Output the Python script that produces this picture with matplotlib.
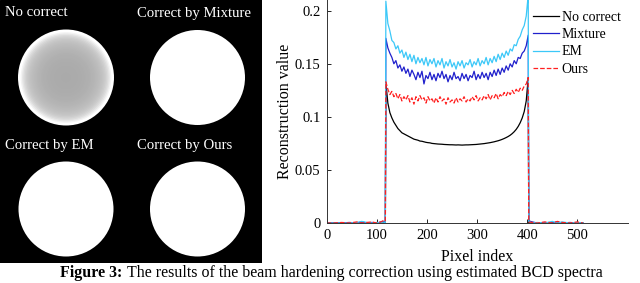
import numpy as np
import matplotlib
matplotlib.use('Agg')
import matplotlib.pyplot as plt
from matplotlib.patches import Circle, Rectangle

plt.rcParams['font.family'] = ['Liberation Serif', 'DejaVu Serif']

# Profile through the reconstructed disc (pixel index vs value)
px_in = list(range(118, 403, 4))
out_l_x = [0, 15, 30, 45, 60, 70, 80, 90, 100, 108, 112, 117]
out_r_x = [403, 410, 420, 435, 450, 460, 470, 485, 500, 511]

no_correct = [0.132, 0.113, 0.104, 0.099, 0.095, 0.092, 0.089, 0.087, 0.085, 0.084,
              0.083, 0.082, 0.081, 0.080, 0.079, 0.0785, 0.078, 0.0772, 0.077, 0.0765,
              0.076, 0.0757, 0.0755, 0.075, 0.0748, 0.0746, 0.0744, 0.0743, 0.0742, 0.0740,
              0.0739, 0.0738, 0.0737, 0.0737, 0.0736, 0.0735, 0.0736, 0.0735, 0.0734, 0.0735,
              0.0736, 0.0736, 0.0737, 0.0738, 0.0739, 0.0740, 0.0742, 0.0744, 0.0746, 0.0748,
              0.0751, 0.0754, 0.0757, 0.0761, 0.0765, 0.0770, 0.0775, 0.0781, 0.0788, 0.0796,
              0.0805, 0.0815, 0.0827, 0.0842, 0.086, 0.0882, 0.091, 0.0945, 0.099, 0.105,
              0.115, 0.137]
mixture = [0.174, 0.165, 0.160, 0.156, 0.150, 0.153, 0.146, 0.149, 0.143, 0.147,
           0.141, 0.145, 0.138, 0.144, 0.140, 0.135, 0.142, 0.137, 0.143, 0.131,
           0.139, 0.136, 0.142, 0.135, 0.140, 0.134, 0.141, 0.137, 0.143, 0.136,
           0.140, 0.133, 0.139, 0.135, 0.142, 0.136, 0.138, 0.134, 0.141, 0.136,
           0.140, 0.134, 0.139, 0.137, 0.143, 0.135, 0.140, 0.136, 0.142, 0.137,
           0.141, 0.135, 0.142, 0.138, 0.144, 0.139, 0.145, 0.140, 0.146, 0.142,
           0.148, 0.144, 0.150, 0.147, 0.153, 0.150, 0.156, 0.155, 0.160, 0.162,
           0.167, 0.177]
em = [0.209, 0.188, 0.181, 0.172, 0.170, 0.164, 0.167, 0.160, 0.163, 0.156,
      0.161, 0.154, 0.159, 0.152, 0.158, 0.150, 0.156, 0.151, 0.155, 0.149,
      0.156, 0.148, 0.154, 0.150, 0.155, 0.147, 0.153, 0.149, 0.155, 0.146,
      0.152, 0.148, 0.154, 0.147, 0.151, 0.145, 0.152, 0.148, 0.153, 0.146,
      0.151, 0.149, 0.154, 0.147, 0.152, 0.149, 0.155, 0.148, 0.153, 0.150,
      0.156, 0.149, 0.155, 0.151, 0.157, 0.152, 0.159, 0.154, 0.160, 0.156,
      0.162, 0.158, 0.164, 0.162, 0.168, 0.167, 0.173, 0.176, 0.182, 0.186,
      0.195, 0.215]
ours = [0.133, 0.126, 0.121, 0.124, 0.119, 0.122, 0.117, 0.121, 0.115, 0.119,
        0.116, 0.120, 0.114, 0.118, 0.112, 0.119, 0.115, 0.120, 0.116, 0.118,
        0.113, 0.119, 0.115, 0.117, 0.113, 0.118, 0.114, 0.119, 0.115, 0.117,
        0.112, 0.118, 0.114, 0.116, 0.113, 0.118, 0.114, 0.117, 0.115, 0.119,
        0.114, 0.117, 0.115, 0.119, 0.116, 0.120, 0.115, 0.118, 0.116, 0.120,
        0.117, 0.121, 0.116, 0.120, 0.118, 0.122, 0.117, 0.121, 0.119, 0.123,
        0.120, 0.124, 0.121, 0.125, 0.122, 0.126, 0.123, 0.127, 0.125, 0.129,
        0.131, 0.137]

bg = {
    'No correct': ([0] * 12, [0] * 10),
    'Mixture': ([0, 0, 0, 0.0005, 0, 0.001, 0, 0.0005, 0, 0.001, 0.0015, 0.001],
                [0.002, 0.001, 0, 0.0005, 0, 0.001, 0, 0.0005, 0, 0]),
    'EM': ([0, 0, 0, 0, 0.0005, 0.0015, 0.0005, 0, 0.0005, 0, 0.001, 0.0005],
           [0.0015, 0, 0.0005, 0, 0.0015, 0, 0.001, 0, 0.0005, 0]),
    'Ours': ([0, 0, 0.0005, 0, 0.001, 0, 0.0005, 0.001, 0, 0.001, 0.002, 0.0015],
             [0.001, 0.0005, 0, 0.001, 0, 0.0015, 0.0005, 0, 0.001, 0]),
}

series = [('No correct', no_correct, '#000000', '-'),
          ('Mixture', mixture, '#2020cc', '-'),
          ('EM', em, '#3cc8f8', '-'),
          ('Ours', ours, '#ff2020', '--')]

panel_titles = ['No correct', 'Correct by Mixture', 'Correct by EM', 'Correct by Ours']
yticks = [0, 0.05, 0.1, 0.15, 0.2]
ytick_labels = ['0', '0.05', '0.1', '0.15', '0.2']
xticks = [0, 100, 200, 300, 400, 500]

fig = plt.figure(figsize=(6.4, 2.83), dpi=100)

# left: reconstructed images
axi = fig.add_axes([0, 1 - 263 / 283, 262 / 640, 263 / 283])
axi.set_xlim(0, 262)
axi.set_ylim(263, 0)
axi.axis('off')
axi.add_patch(Rectangle((0, 0), 262, 263, color='black'))
centers = [(66, 77.5), (197.5, 77.5), (66, 209), (197.5, 209)]
rad = 47.5
# uncorrected disc shaded from the black profile (right half, outside in)
scale = rad / (402 - 262)
for x, v in reversed(list(zip(px_in, no_correct))):
    if x < 262:
        break
    g = min(v / 0.11, 1.0)
    axi.add_patch(Circle(centers[0], (x - 262) * scale + 0.5, color=(g, g, g), lw=0))
for c in centers[1:]:
    axi.add_patch(Circle(c, rad, color='white', lw=0))
label_pos = [(5, 13), (137, 13), (5, 145), (137, 145)]
for (lx, ly), t in zip(label_pos, panel_titles):
    axi.text(lx, ly, t, color='white', fontsize=10.6, va='center', ha='left')

# right: line profile
ax = fig.add_axes([326.7 / 640, 1 - 223 / 283, 301.3 / 640, 223 / 283])
for name, vals, col, ls in series:
    xs = out_l_x + px_in + out_r_x
    ys = bg[name][0] + vals + bg[name][1]
    ax.plot(xs, ys, color=col, ls=ls, lw=0.9, label=name)

ax.set_xlim(0, 601)
ax.set_ylim(0, 0.2101)
ax.set_xticks(xticks)
ax.set_yticks(yticks)
ax.set_yticklabels(ytick_labels)
ax.spines['top'].set_visible(False)
ax.spines['right'].set_visible(False)
for s in ['left', 'bottom']:
    ax.spines[s].set_linewidth(0.7)
    ax.spines[s].set_color('#333333')
ax.tick_params(direction='in', length=3, width=0.6, labelsize=10.5, pad=4.5)
ax.set_xlabel('Pixel index', fontsize=11.5, labelpad=5)
ax.set_ylabel('Reconstruction value', fontsize=11.5, labelpad=1)

ax.legend(loc='upper left', bbox_to_anchor=(0.685, 0.95), frameon=False,
          fontsize=10, borderpad=0, handlelength=1.9, handletextpad=0.15,
          labelspacing=0.3, borderaxespad=0)

# caption along the bottom edge as in the source page
fig.text(60 / 640, 2 / 283, 'Figure 3:', fontsize=11.5, fontweight='bold', va='bottom', ha='left')
fig.text(127 / 640, 2 / 283,
         'The results of the beam hardening correction using estimated BCD spectra',
         fontsize=11.5, va='bottom', ha='left')

plt.savefig('out.png', dpi=100)
